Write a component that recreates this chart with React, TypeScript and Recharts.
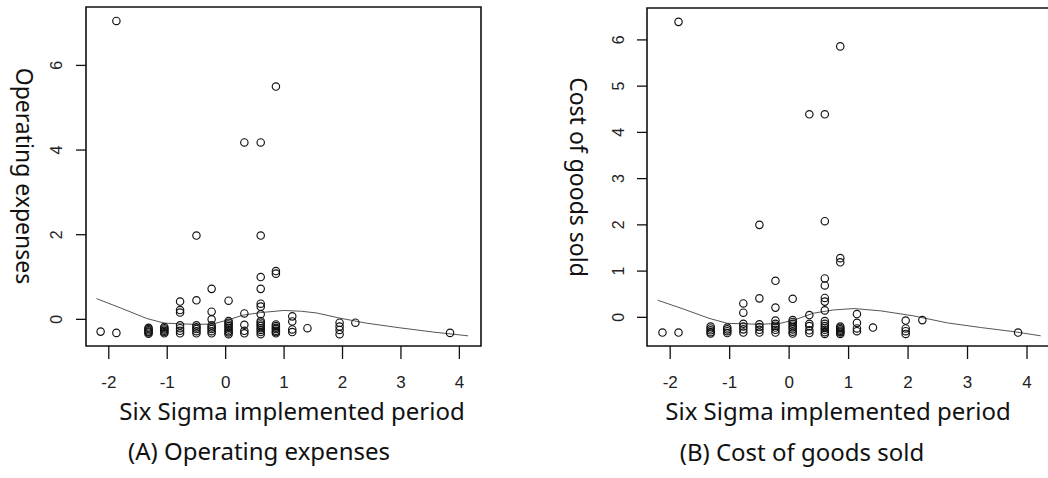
import { ReferenceArea, Scatter, ScatterChart, XAxis, YAxis } from "recharts";

// (A) Operating expenses — observed points (period, value)
const opX = [
  -2.14, -1.87, -1.87,
  -1.32, -1.32, -1.32, -1.32, -1.32, -1.32,
  -1.05, -1.05, -1.05, -1.05, -1.05, -1.05,
  -0.78, -0.78, -0.78, -0.78, -0.78, -0.78, -0.78,
  -0.5, -0.5, -0.5, -0.5, -0.5, -0.5, -0.5,
  -0.24, -0.24, -0.24, -0.24, -0.24, -0.24, -0.24, -0.24,
  0.05, 0.05, 0.05, 0.05, 0.05, 0.05, 0.05, 0.05, 0.05, 0.05,
  0.32, 0.32, 0.32, 0.32, 0.32,
  0.6, 0.6, 0.6, 0.6, 0.6, 0.6, 0.6, 0.6, 0.6, 0.6, 0.6, 0.6, 0.6, 0.6, 0.6,
  0.86, 0.86, 0.86, 0.86, 0.86, 0.86, 0.86, 0.86, 0.86, 0.86,
  1.14, 1.14, 1.14, 1.14,
  1.4,
  1.95, 1.95, 1.95, 1.95,
  2.22,
  3.84,
];
const opY = [
  -0.29, 7.05, -0.32,
  -0.2, -0.23, -0.26, -0.29, -0.31, -0.34,
  -0.18, -0.21, -0.24, -0.27, -0.3, -0.33,
  0.42, 0.22, 0.16, -0.14, -0.21, -0.27, -0.33,
  1.98, 0.45, -0.14, -0.19, -0.23, -0.28, -0.33,
  0.72, 0.18, 0.0, -0.14, -0.19, -0.23, -0.28, -0.33,
  0.44, -0.04, -0.08, -0.12, -0.16, -0.2, -0.24, -0.28, -0.31, -0.35,
  4.18, 0.14, -0.13, -0.27, -0.33,
  4.18, 1.98, 1.0, 0.72, 0.37, 0.3, 0.12, -0.04, -0.08, -0.12, -0.16, -0.21, -0.25, -0.3, -0.35,
  5.5, 1.14, 1.08, -0.12, -0.16, -0.2, -0.23, -0.27, -0.3, -0.33,
  0.07, -0.05, -0.24, -0.3,
  -0.21,
  -0.08, -0.17, -0.25, -0.35,
  -0.08,
  -0.32,
];
// (A) smoothed curve
const opFitX = [-2.21, -1.8, -1.35, -1.05, -0.5, -0.22, 0.05, 0.3, 0.6, 1.0, 1.3, 1.56, 1.95, 2.41, 2.98, 3.55, 4.15];
const opFitY = [0.49, 0.27, 0.02, -0.09, -0.12, -0.11, -0.01, 0.1, 0.16, 0.21, 0.19, 0.15, 0.03, -0.09, -0.2, -0.3, -0.39];

// (B) Cost of goods sold — observed points
const cgX = [
  -2.13, -1.86, -1.86,
  -1.32, -1.32, -1.32, -1.32, -1.32,
  -1.04, -1.04, -1.04, -1.04,
  -0.77, -0.77, -0.77, -0.77, -0.77, -0.77,
  -0.5, -0.5, -0.5, -0.5, -0.5, -0.5,
  -0.23, -0.23, -0.23, -0.23, -0.23, -0.23, -0.23, -0.23,
  0.06, 0.06, 0.06, 0.06, 0.06, 0.06, 0.06, 0.06, 0.06,
  0.34, 0.34, 0.34, 0.34, 0.34, 0.34,
  0.6, 0.6, 0.6, 0.6, 0.6, 0.6, 0.6, 0.6, 0.6, 0.6, 0.6, 0.6, 0.6, 0.6,
  0.86, 0.86, 0.86, 0.86, 0.86, 0.86, 0.86, 0.86, 0.86, 0.86,
  1.14, 1.14, 1.14, 1.14,
  1.41,
  1.96, 1.96, 1.96, 1.96,
  2.24,
  3.85,
];
const cgY = [
  -0.33, 6.39, -0.33,
  -0.2, -0.24, -0.28, -0.32, -0.35,
  -0.22, -0.26, -0.3, -0.34,
  0.3, 0.1, -0.14, -0.2, -0.26, -0.33,
  2.0, 0.41, -0.15, -0.21, -0.27, -0.33,
  0.79, 0.21, -0.07, -0.14, -0.18, -0.22, -0.27, -0.33,
  0.4, -0.06, -0.1, -0.14, -0.18, -0.22, -0.26, -0.31, -0.35,
  4.39, 0.05, -0.14, -0.19, -0.28, -0.34,
  4.39, 2.08, 0.84, 0.69, 0.42, 0.34, 0.15, -0.08, -0.14, -0.19, -0.23, -0.27, -0.32, -0.36,
  5.86, 1.28, 1.19, -0.2, -0.23, -0.26, -0.29, -0.31, -0.33, -0.36,
  0.07, -0.12, -0.24, -0.3,
  -0.22,
  -0.07, -0.24, -0.3, -0.36,
  -0.06,
  -0.33,
];
const cgFitX = [-2.21, -1.8, -1.35, -1.04, -0.48, -0.15, 0.08, 0.41, 0.75, 1.09, 1.54, 2.1, 2.66, 3.22, 3.78, 4.23];
const cgFitY = [0.37, 0.19, -0.02, -0.13, -0.15, -0.13, -0.06, 0.09, 0.16, 0.19, 0.14, 0.03, -0.12, -0.22, -0.31, -0.4];

const xTicks = [-2, -1, 0, 1, 2, 3, 4];
const opTicks = [0, 2, 4, 6];
const cgTicks = [0, 1, 2, 3, 4, 5, 6];

const X_DOMAIN: [number, number] = [-2.39, 4.37];
const OP_DOMAIN: [number, number] = [-0.63, 7.38];
const CG_DOMAIN: [number, number] = [-0.62, 6.69];

const TICK_FONT = "'Liberation Sans Narrow', 'Liberation Sans', Arial, sans-serif";
const TEXT_FONT = "'Noto Sans', 'Open Sans', sans-serif";

const zip = (xs: number[], ys: number[]) => xs.map((x, i) => ({ x, y: ys[i] }));

const OpenCircle = (props: any) => (
  <circle cx={props.cx} cy={props.cy} r={3.7} fill="none" stroke="#111" strokeWidth={1.15} />
);

const NoDot = () => <g />;

const makeYTick = (shift: number) => (props: any) => {
  const cx = props.x - shift;
  return (
    <text
      x={cx}
      y={props.y}
      transform={`rotate(-90 ${cx} ${props.y})`}
      textAnchor="middle"
      dominantBaseline="central"
      fontSize={16}
      fontFamily={TICK_FONT}
      fill="#222"
    >
      {props.payload.value}
    </text>
  );
};

function Panel({
  points,
  fit,
  yDomain,
  yTicks,
  width,
  yAxisWidth,
  margin,
  tickShift,
}: {
  points: { x: number; y: number }[];
  fit: { x: number; y: number }[];
  yDomain: [number, number];
  yTicks: number[];
  width: number;
  yAxisWidth: number;
  margin: { top: number; right: number; bottom: number; left: number };
  tickShift: number;
}) {
  return (
    <ScatterChart width={width} height={478} margin={margin}>
      <XAxis
        type="number"
        dataKey="x"
        domain={X_DOMAIN}
        ticks={xTicks}
        allowDataOverflow
        height={40}
        tickSize={13}
        tickMargin={17}
        axisLine={false}
        tickLine={{ stroke: "#111", strokeWidth: 1.3 }}
        tick={{ fill: "#222", fontSize: 17, fontFamily: TICK_FONT }}
      />
      <YAxis
        type="number"
        dataKey="y"
        domain={yDomain}
        ticks={yTicks}
        allowDataOverflow
        width={yAxisWidth}
        tickSize={10}
        axisLine={false}
        tickLine={{ stroke: "#111", strokeWidth: 1.3 }}
        tick={makeYTick(tickShift)}
      />
      <ReferenceArea
        x1={X_DOMAIN[0]}
        x2={X_DOMAIN[1]}
        y1={yDomain[0]}
        y2={yDomain[1]}
        fill="none"
        fillOpacity={0}
        stroke="#111"
        strokeWidth={1.6}
        ifOverflow="visible"
      />
      <Scatter
        data={fit}
        line={{ stroke: "#555", strokeWidth: 1 }}
        lineType="joint"
        shape={NoDot}
        isAnimationActive={false}
      />
      <Scatter data={points} shape={OpenCircle} isAnimationActive={false} />
    </ScatterChart>
  );
}

const textStyle: React.CSSProperties = {
  position: "absolute",
  fontFamily: TEXT_FONT,
  color: "#111",
  whiteSpace: "nowrap",
  lineHeight: 1,
  transform: "translate(-50%, -50%)",
};

export default function App() {
  return (
    <div
      style={{
        position: "absolute",
        left: 0,
        top: 0,
        width: 1048,
        height: 478,
        overflow: "hidden",
        background: "#fff",
      }}
    >
      <div style={{ position: "absolute", left: 0, top: 0 }}>
        <Panel
          points={zip(opX, opY)}
          fit={zip(opFitX, opFitY)}
          yDomain={OP_DOMAIN}
          yTicks={opTicks}
          width={520}
          yAxisWidth={86}
          margin={{ top: 7, right: 39, bottom: 92, left: 0 }}
          tickShift={17}
        />
      </div>
      <div style={{ position: "absolute", left: 520, top: 0 }}>
        <Panel
          points={zip(cgX, cgY)}
          fit={zip(cgFitX, cgFitY)}
          yDomain={CG_DOMAIN}
          yTicks={cgTicks}
          width={540}
          yAxisWidth={127}
          margin={{ top: 8, right: 11, bottom: 92, left: 0 }}
          tickShift={16}
        />
      </div>

      <div style={{ ...textStyle, left: 24, top: 176, fontSize: 23, transform: "translate(-50%, -50%) rotate(90deg)" }}>
        Operating expenses
      </div>
      <div style={{ ...textStyle, left: 578, top: 177, fontSize: 23, transform: "translate(-50%, -50%) rotate(90deg)" }}>
        Cost of goods sold
      </div>

      <div style={{ ...textStyle, left: 292, top: 411, fontSize: 24 }}>Six Sigma implemented period</div>
      <div style={{ ...textStyle, left: 838, top: 411, fontSize: 24 }}>Six Sigma implemented period</div>

      <div style={{ ...textStyle, left: 259, top: 451, fontSize: 24 }}>(A) Operating expenses</div>
      <div style={{ ...textStyle, left: 802, top: 452, fontSize: 24 }}>(B) Cost of goods sold</div>
    </div>
  );
}
